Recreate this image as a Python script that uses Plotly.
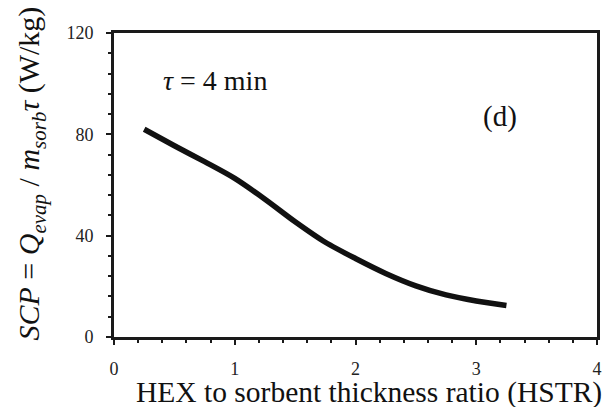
import plotly.graph_objects as go

# Data
hstr = [0.25, 0.5, 0.75, 1.0, 1.25, 1.5, 1.75, 2.0, 2.25, 2.5, 2.75, 3.0, 3.25]
scp = [82.0, 75.5, 69.2, 62.6, 54.4, 45.5, 37.4, 31.0, 25.1, 20.2, 16.6, 14.2, 12.4]

x_ticks = [0, 1, 2, 3, 4]
y_ticks = [0, 40, 80, 120]

FONT = "Times New Roman, Liberation Serif, DejaVu Serif, serif"
AX = "#1a1a1a"

fig = go.Figure()
fig.add_trace(go.Scatter(
    x=hstr, y=scp, mode="lines",
    line=dict(color="#111111", width=5.5, shape="spline", smoothing=0.8),
    showlegend=False, hoverinfo="skip",
))

axis_common = dict(
    showgrid=False, zeroline=False,
    showline=True, linecolor=AX, linewidth=3, mirror=True,
    ticks="outside", ticklen=5, tickwidth=2, tickcolor=AX,
    tickfont=dict(family=FONT, size=18, color="#222"),
)

fig.update_xaxes(
    range=[0, 4], tickvals=x_ticks, ticktext=[str(v) for v in x_ticks],
    minor=dict(dtick=0.2, ticks="outside", ticklen=3, tickwidth=2, tickcolor=AX),
    ticklabelstandoff=8,
    **axis_common,
)
fig.update_yaxes(
    range=[0, 120], tickvals=y_ticks, ticktext=[str(v) for v in y_ticks],
    minor=dict(dtick=8, ticks="outside", ticklen=3, tickwidth=2, tickcolor=AX),
    ticklabelstandoff=9,
    **axis_common,
)

fig.add_annotation(
    x=0.39, y=101.2, xref="x", yref="y", xanchor="left", yanchor="middle",
    text="<i>τ</i> = 4 min", showarrow=False,
    font=dict(family=FONT, size=28, color="#111"),
)
fig.add_annotation(
    x=3.197, y=87.1, xref="x", yref="y", xanchor="center", yanchor="middle",
    text="(d)", showarrow=False,
    font=dict(family=FONT, size=29, color="#111"),
)
# axis titles
fig.add_annotation(
    x=-0.171, y=0.539, xref="paper", yref="paper", xanchor="center", yanchor="middle",
    textangle=-90, showarrow=False,
    text="<i>SCP</i> = <i>Q</i><sub><i>evap</i></sub> / <i>m</i><sub><i>sorb</i></sub><i>τ</i> (W/kg)",
    font=dict(family=FONT, size=30, color="#111"),
)
fig.add_annotation(
    x=0.527, y=-0.183, xref="paper", yref="paper", xanchor="center", yanchor="middle",
    text="HEX to sorbent thickness ratio (HSTR)", showarrow=False,
    font=dict(family=FONT, size=29.5, color="#111"),
)

# the page body has an 8px default margin, so the figure is sized to fit the window
fig.update_layout(
    width=608, height=399,
    margin=dict(l=106, r=19, t=25, b=70),
    paper_bgcolor="white", plot_bgcolor="white",
    font=dict(family=FONT),
)

fig.write_html("out.html")
